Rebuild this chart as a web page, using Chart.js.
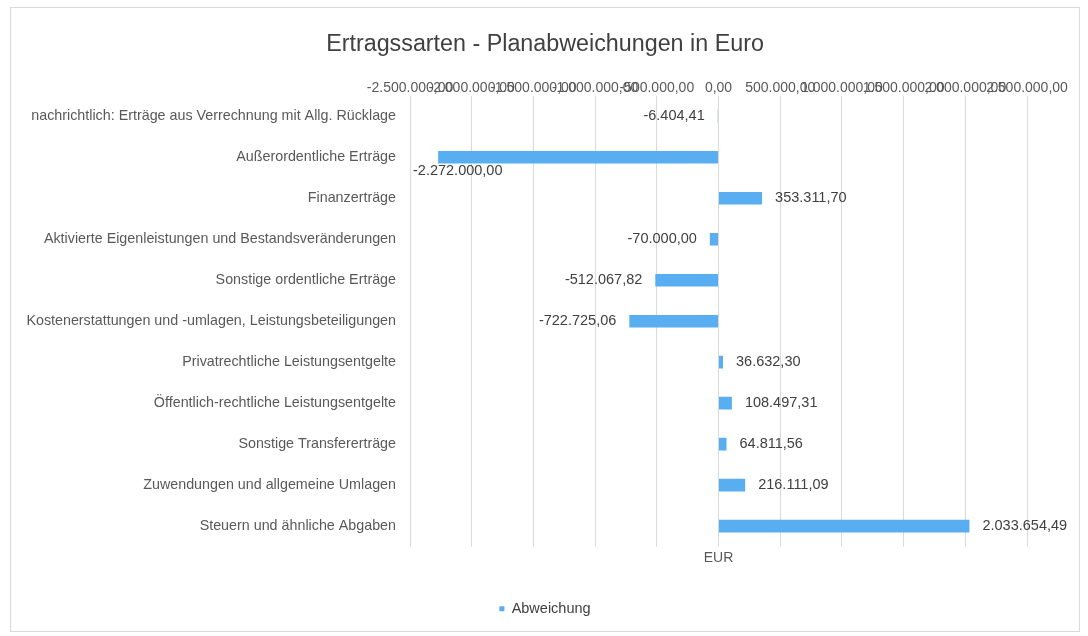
<!DOCTYPE html>
<html>
<head>
<meta charset="utf-8">
<script src="https://cdn.jsdelivr.net/npm/chart.js@4.4.1/dist/chart.umd.min.js"></script>
<style>
  body { margin: 0; background: #fff; }
  #box { position: absolute; left: 10px; top: 7px; width: 1070px; height: 625px;
         box-sizing: border-box; border: 1px solid #d9d9d9; }
</style>
</head>
<body>
<div id="box"><canvas id="chart"></canvas></div>
<script>
// Ertragssarten, top to bottom as in the picture
const categories = [
  'nachrichtlich: Erträge aus Verrechnung mit Allg. Rücklage',
  'Außerordentliche Erträge',
  'Finanzerträge',
  'Aktivierte Eigenleistungen und Bestandsveränderungen',
  'Sonstige ordentliche Erträge',
  'Kostenerstattungen und -umlagen, Leistungsbeteiligungen',
  'Privatrechtliche Leistungsentgelte',
  'Öffentlich-rechtliche Leistungsentgelte',
  'Sonstige Transfererträge',
  'Zuwendungen und allgemeine Umlagen',
  'Steuern und ähnliche Abgaben'
];
const abweichung = [
  -6404.41, -2272000.00, 353311.70, -70000.00, -512067.82, -722725.06,
  36632.30, 108497.31, 64811.56, 216111.09, 2033654.49
];
const axisMin = -2500000;
const axisMax = 2500000;
const axisStep = 500000;

const FONT = '"Liberation Sans", Arial, sans-serif';

// German number format: 1.234.567,89
function fmtDe(v) {
  const neg = v < 0;
  const parts = Math.abs(v).toFixed(2).split('.');
  const int = parts[0].replace(/\B(?=(\d{3})+(?!\d))/g, '.');
  return (neg ? '-' : '') + int + ',' + parts[1];
}

// value labels next to the bar ends
const valueLabels = {
  id: 'valueLabels',
  afterDatasetsDraw(chart) {
    const ctx = chart.ctx;
    const meta = chart.getDatasetMeta(0);
    const area = chart.chartArea;
    ctx.save();
    ctx.font = '14.5px ' + FONT;
    ctx.fillStyle = '#404040';
    ctx.textBaseline = 'middle';
    meta.data.forEach((bar, i) => {
      const v = abweichung[i];
      const txt = fmtDe(v);
      const w = ctx.measureText(txt).width;
      if (v >= 0) {
        ctx.textAlign = 'left';
        ctx.fillText(txt, bar.x + 13, bar.y);
      } else if (bar.x - 13 - w < area.left) {
        // no room on the left: put it under the bar, like the original
        ctx.textAlign = 'left';
        ctx.fillText(txt, area.left + 3, bar.y + 14);
      } else {
        ctx.textAlign = 'right';
        ctx.fillText(txt, bar.x - 13, bar.y);
      }
    });
    ctx.restore();
  }
};

new Chart(document.getElementById('chart'), {
  type: 'bar',
  data: {
    labels: categories,
    datasets: [{
      label: 'Abweichung',
      data: abweichung,
      backgroundColor: '#58aef0',
      borderWidth: 0,
      barPercentage: 0.31,
      categoryPercentage: 1
    }]
  },
  options: {
    indexAxis: 'y',
    responsive: true,
    maintainAspectRatio: false,
    animation: false,
    layout: { padding: { left: 0, right: 0, top: 0, bottom: 5 } },
    plugins: {
      title: {
        display: true,
        text: 'Ertragssarten - Planabweichungen in Euro',
        color: '#404040',
        font: { family: FONT, size: 23.3, weight: 'normal' },
        padding: { top: 23, bottom: 22 }
      },
      legend: {
        position: 'bottom',
        labels: {
          color: '#404040',
          font: { family: FONT, size: 14.5 },
          usePointStyle: true,
          pointStyle: 'rect',
          boxWidth: 5,
          boxHeight: 5,
          padding: 10
        }
      },
      tooltip: { enabled: false }
    },
    scales: {
      x: {
        position: 'top',
        min: axisMin,
        max: axisMax,
        grid: { color: '#d9d9d9', drawTicks: false },
        border: { display: false },
        ticks: {
          stepSize: axisStep,
          autoSkip: false,
          maxRotation: 0,
          minRotation: 0,
          padding: -1,
          color: '#595959',
          font: { family: FONT, size: 14 },
          callback: v => fmtDe(v)
        }
      },
      x2: {
        position: 'bottom',
        min: axisMin,
        max: axisMax,
        grid: { display: false, drawTicks: false },
        border: { display: false },
        ticks: { display: false },
        title: {
          display: true,
          text: 'EUR',
          color: '#595959',
          font: { family: FONT, size: 14 },
          padding: { top: 3, bottom: 25 }
        }
      },
      y: {
        grid: { display: false, drawTicks: false },
        border: { display: false },
        ticks: {
          padding: 14,
          color: '#595959',
          font: { family: FONT, size: 14.3 }
        },
        afterFit: s => { s.width = 399; }
      },
      // empty strip on the right so the plot ends where the original does
      y2: {
        type: 'category',
        position: 'right',
        grid: { display: false, drawTicks: false },
        border: { display: false },
        ticks: { display: false },
        afterFit: s => { s.width = 52; }
      }
    }
  },
  plugins: [valueLabels]
});
</script>
</body>
</html>
